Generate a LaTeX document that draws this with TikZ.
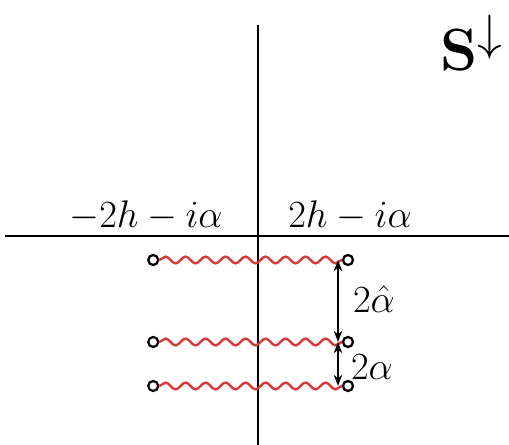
\documentclass[tikz,border=0pt]{standalone}
\usepackage{amsmath,amssymb}
\usepackage{xcolor}
\usetikzlibrary{arrows.meta,decorations.pathmorphing}
\definecolor{cutred}{RGB}{214,58,58}

\begin{document}
\begin{tikzpicture}[
    axis/.style={line width=1.8pt},
    pt/.style={circle, draw, line width=1.6pt, fill=white, inner sep=0pt, minimum size=0.25cm},
    cut/.style={cutred, line width=1.7pt, decorate, decoration={snake, segment length=0.5cm, amplitude=0.085cm}},
    gap/.style={line width=1.6pt, {Stealth[length=8pt,width=6pt]}-{Stealth[length=8pt,width=6pt]}},
    lbl/.style={font=\Huge, scale=1.1}
]
\useasboundingbox (0,0) rectangle (12.725,11.125);
% Axes
\coordinate (xl) at (0.12, 5.225);
\coordinate (xr) at (12.725, 5.225);
\coordinate (yb) at (6.45, 0);
\coordinate (yt) at (6.45, 10.5);
\draw[axis] (xl) -- (xr);
\draw[axis] (yb) -- (yt);

% Labels
\node[lbl] (lm) at (3.65, 5.73) {$-2h-i\alpha$};
\node[lbl] (lp) at (8.75, 5.73) {$2h-i\alpha$};
\node[font=\Huge, scale=1.7] (sd) at (11.8, 10.05) {$\mathbf{S}^{\downarrow}$};

% Cuts
\node[pt] (a1) at (3.83, 4.625) {};
\node[pt] (b1) at (8.7, 4.625) {};
\node[pt] (a2) at (3.83, 2.575) {};
\node[pt] (b2) at (8.7, 2.575) {};
\node[pt] (a3) at (3.83, 1.475) {};
\node[pt] (b3) at (8.7, 1.475) {};
\draw[cut] (a1) -- (b1);
\draw[cut] (a2) -- (b2);
\draw[cut] (a3) -- (b3);

% Spacings
\coordinate (g1) at (8.45, 4.625);
\coordinate (g2) at (8.45, 2.575);
\coordinate (g3) at (8.45, 1.475);
\draw[gap] (g1) -- (g2);
\draw[gap] (g2) -- (g3);
\node[lbl] (h1) at (9.35, 3.65) {$2\hat{\alpha}$};
\node[lbl] (h2) at (9.3, 1.95) {$2\alpha$};
\end{tikzpicture}
\end{document}
